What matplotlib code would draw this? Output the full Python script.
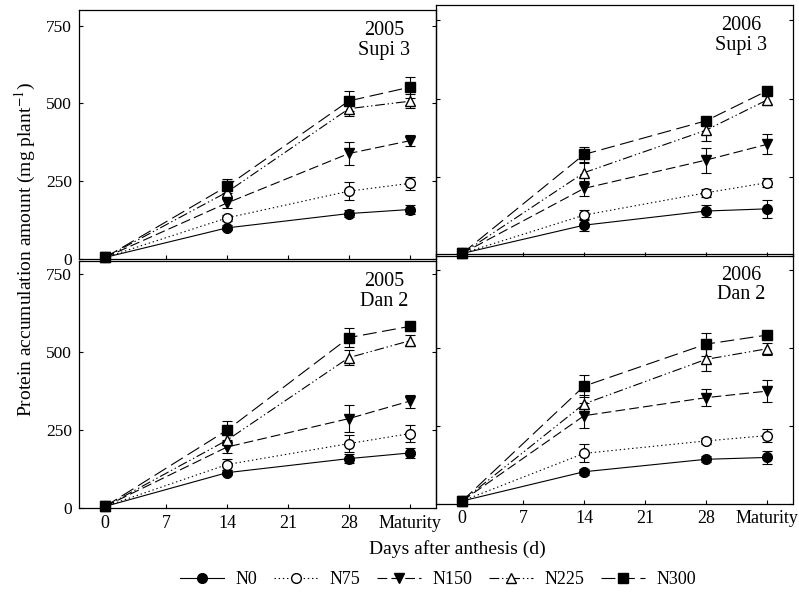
import numpy as np
import matplotlib
matplotlib.use("Agg")
import matplotlib.pyplot as plt

plt.rcParams['font.family'] = ['Liberation Serif', 'DejaVu Serif']
plt.rcParams['mathtext.fontset'] = 'stix'
plt.rcParams['lines.scale_dashes'] = False

days = [0, 14, 28, 35]
tick_pos = [0, 7, 14, 21, 28, 35]
tick_lab = ['0', '7', '14', '21', '28', 'Maturity']
treatments = ['N0', 'N75', 'N150', 'N225', 'N300']

# 2005 Supi 3
supi05 = [[5, 100, 146, 159], [5, 132, 218, 243], [5, 180, 339, 380],
          [5, 215, 483, 507], [5, 234, 508, 552]]
supi05_err = [[0, 8, 10, 14], [0, 10, 28, 20], [0, 15, 37, 18],
              [0, 15, 22, 22], [0, 22, 32, 34]]
# 2006 Supi 3
supi06 = [[8, 98, 143, 150], [8, 130, 201, 233], [8, 215, 305, 355],
          [8, 265, 400, 496], [8, 323, 430, 525]]
supi06_err = [[0, 20, 18, 28], [0, 15, 12, 15], [0, 25, 40, 32],
              [0, 30, 35, 15], [0, 25, 10, 10]]
# 2005 Dan 2
dan05 = [[5, 113, 158, 176], [5, 139, 206, 238], [5, 195, 286, 342],
         [5, 217, 481, 535], [5, 249, 545, 581]]
dan05_err = [[0, 8, 15, 15], [0, 19, 27, 27], [0, 20, 43, 21],
             [0, 15, 25, 17], [0, 30, 31, 10]]
# 2006 Dan 2
dan06 = [[8, 102, 142, 148], [8, 161, 201, 218], [8, 282, 340, 361],
         [8, 320, 463, 497], [8, 377, 512, 541]]
dan06_err = [[0, 10, 10, 20], [0, 29, 10, 21], [0, 40, 27, 35],
             [0, 30, 37, 19], [0, 35, 37, 10]]

styles = [
    dict(ls='-', marker='o', mfc='black', ms=7),
    dict(ls=(0, (1, 2)), marker='o', mfc='white', ms=7),
    dict(ls=(0, (7, 3)), marker='v', mfc='black', ms=7.5),
    dict(ls=(0, (7, 2, 1, 2, 1, 2)), marker='^', mfc='white', ms=7.5),
    dict(ls=(0, (10, 4)), marker='s', mfc='black', ms=6.5),
]

W, H = 799, 592
fig = plt.figure(figsize=(W / 100, H / 100), dpi=100)


def make_ax(x0, x1, ytop, ybot, ymax):
    ax = fig.add_axes([x0 / W, 1 - ybot / H, (x1 - x0) / W, (ybot - ytop) / H])
    ax.set_facecolor('none')
    ax.set_xlim(-3, 38)
    ax.set_ylim(0, ymax)
    ax.set_xticks(tick_pos)
    ax.set_yticks([0, 250, 500, 750])
    ax.tick_params(direction='in', length=3, width=0.8, right=True, pad=5)
    ax.tick_params(axis='x', labelsize=13)
    ax.tick_params(axis='y', labelsize=12.5)
    for s in ax.spines.values():
        s.set_linewidth(0.9)
    return ax


panels = [
    (make_ax(79, 436, 10, 259, 800), supi05, supi05_err, '2005\nSupi 3', True, False),
    (make_ax(79, 436, 261, 508, 790), dan05, dan05_err, '2005\nDan 2', True, True),
    (make_ax(436, 793, 4.5, 256, 800), supi06, supi06_err, '2006\nSupi 3', False, False),
    (make_ax(436, 793, 254.5, 503.5, 800), dan06, dan06_err, '2006\nDan 2', False, True),
]

handles = []
for ax, vals, errs, title, ylab, xlab in panels:
    for i in range(5):
        c = ax.errorbar(days, vals[i], yerr=errs[i], color='black', lw=0.8,
                        mec='black', elinewidth=0.8, capsize=3.5, capthick=0.8,
                        **styles[i])
        c[0].set_clip_on(False)
        if ax is panels[0][0]:
            handles.append(c[0])
    ax.text(0.855, 0.955, title, transform=ax.transAxes, ha='center', va='top',
            fontsize=14.5, linespacing=1.05)
    if xlab:
        ax.set_xticklabels(tick_lab)
    else:
        ax.set_xticklabels([])
    if not ylab:
        ax.set_yticklabels([])

fig.text(25 / W, 1 - 250 / H, 'Protein accumulation amount (mg plant$^{-1}$)',
         rotation=90, ha='center', va='center', fontsize=14)
fig.text(457 / W, 1 - 549 / H, 'Days after anthesis (d)', ha='center',
         va='center', fontsize=14)

fig.legend(handles, treatments, loc='center', bbox_to_anchor=(438 / W, 1 - 580 / H),
           ncol=5, frameon=False, handlelength=2.45, columnspacing=0.95,
           handletextpad=0.6, fontsize=13)

fig.savefig('out.png', dpi=100)
